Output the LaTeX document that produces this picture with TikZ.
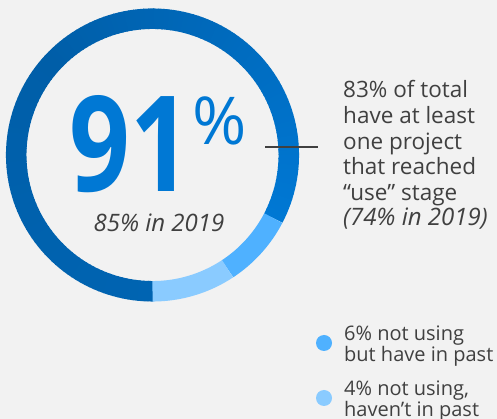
\documentclass[tikz,border=0pt]{standalone}
\usepackage{fontspec}
\setmainfont{Open Sans}
\definecolor{bgc}{HTML}{F2F2F2}
\definecolor{brightb}{HTML}{0078D4}
\definecolor{darkb}{HTML}{005EA8}
\definecolor{botb}{HTML}{0064B2}
\definecolor{midb}{HTML}{4FB1FF}
\definecolor{lightb}{HTML}{8ACBFF}
\definecolor{txt}{HTML}{404040}
\begin{document}
\begin{tikzpicture}[x=1pt,y=1pt,
  ring/.style={line width=20.5pt},
  body/.style={font=\fontsize{22.5}{25.6}\selectfont, text=txt, align=left, inner sep=0pt, anchor=base west},
  legtext/.style={font=\fontsize{20}{19.7}\selectfont, text=txt, align=left, inner sep=0pt, anchor=base west},
  dot/.style={circle, inner sep=0pt, minimum size=16pt}]
\fill[bgc] (0,0) rectangle (497,419);
\useasboundingbox (0,0) rectangle (497,419);
\coordinate (C) at (152.5,264);
\def\R{136.3}
% dark gradient ring part
\foreach \i in {0,...,81} {
  \pgfmathsetmacro\a{-27.6+\i*162.6/82}
  \pgfmathsetmacro\b{\a+162.6/82+0.4}
  \pgfmathsetmacro\p{\i/82*100}
  \draw[ring, draw=darkb!\p!brightb] ([shift={(\a:\R)}]C) arc[start angle=\a, end angle=\b, radius=\R];
}
\foreach \i in {0,...,67} {
  \pgfmathsetmacro\a{135+\i*135/68}
  \pgfmathsetmacro\b{\a+135/68+0.4}
  \pgfmathsetmacro\p{\i/68*100}
  \draw[ring, draw=botb!\p!darkb] ([shift={(\a:\R)}]C) arc[start angle=\a, end angle=\b, radius=\R];
}
\draw[ring, draw=midb] ([shift={(-56.6:\R)}]C) arc[start angle=-56.6, end angle=-27.6, radius=\R];
\draw[ring, draw=lightb] ([shift={(-90:\R)}]C) arc[start angle=-90, end angle=-56.6, radius=\R];
% tick
\coordinate (t1) at (265,272);
\coordinate (t2) at (318,272);
\draw[txt, line width=2pt] (t1) -- (t2);
% center texts
\node[font=\fontsize{133}{133}\selectfont\bfseries, text=brightb, inner sep=0pt, anchor=base] (big) at (130,227) {\scalebox{0.8}[1]{91}};
\node[font=\fontsize{66}{66}\selectfont, text=brightb, inner sep=0pt, anchor=base west] (pct) at (192,274) {\%};
\node[font=\fontsize{24}{25}\selectfont\itshape, text=txt, inner sep=0pt, anchor=base] (prev) at (159,187) {85\% in 2019};
% description
\node[body] (desc) at (343,193) {83\% of total\\have at least\\one project\\that reached\\“use” stage\\{\fontsize{24}{25.6}\selectfont\itshape(74\% in 2019)}};
% legend
\node[dot, fill=midb] (d1) at (324,76) {};
\node[dot, fill=lightb] (d2) at (324,21) {};
\node[legtext] (l1) at (344,57) {6\% not using\\but have in past};
\node[legtext] (l2) at (344,2.5) {4\% not using,\\haven’t in past};
\end{tikzpicture}
\end{document}
